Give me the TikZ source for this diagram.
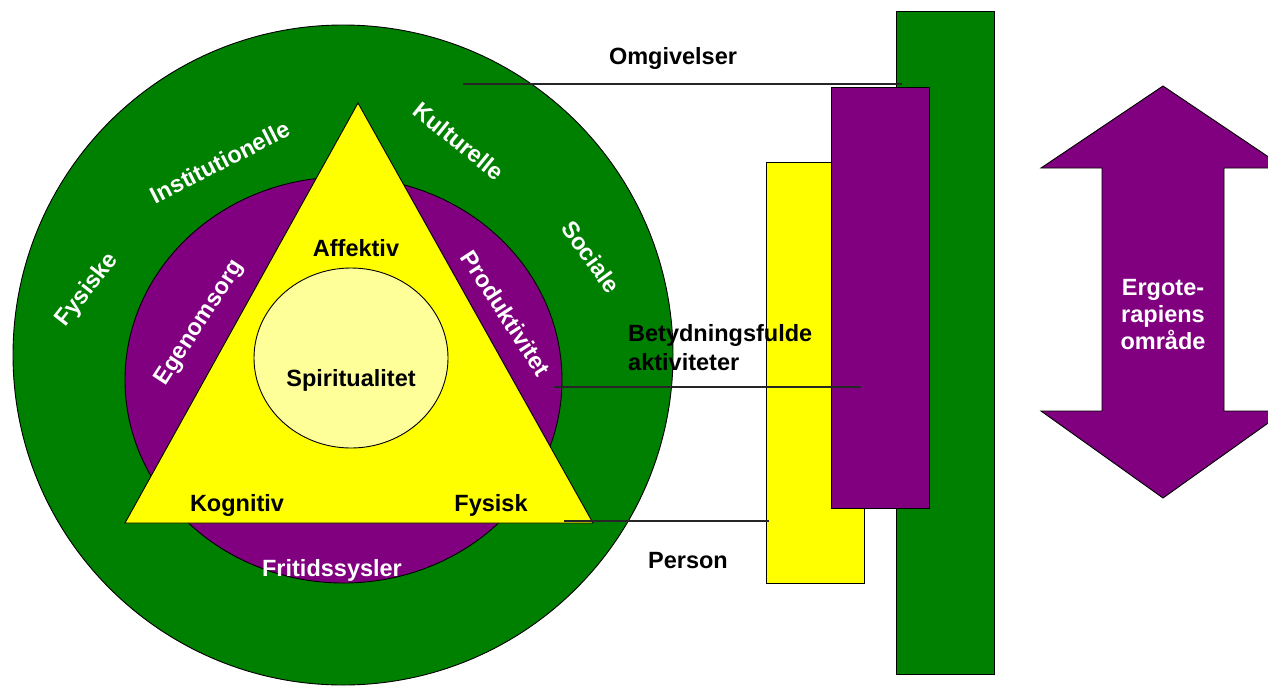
\documentclass[tikz,border=0pt]{standalone}
\usepackage{fontspec}
\setmainfont{Liberation Sans}
\usetikzlibrary{shapes.geometric}
\definecolor{ogreen}{RGB}{0,128,0}
\definecolor{opurple}{RGB}{128,0,128}
\definecolor{oyellow}{RGB}{255,255,0}
\definecolor{olight}{RGB}{255,255,153}
\begin{document}
\begin{tikzpicture}[x=1pt,y=-1pt,
  lbl/.style={font=\fontsize{23.5}{28}\selectfont\bfseries, inner sep=0pt},
  wlbl/.style={lbl, text=white},
  blbl/.style={lbl, text=black},
  shapeline/.style={draw=black, line width=0.9pt},
  conn/.style={draw=black!85, line width=1.1pt},
  barbox/.style={rectangle, shapeline, inner sep=0pt, minimum width=98pt, minimum height=421pt},
]
\useasboundingbox (0,0) rectangle (1268,686);
\clip (0,0) rectangle (1268,686);
\fill[white] (0,0) rectangle (1268,686);

% --- circle model ---
\node[circle, fill=ogreen, shapeline, minimum size=660pt, inner sep=0pt] (env) at (343,355) {};
\node[ellipse, fill=opurple, shapeline, minimum width=437pt, minimum height=406pt, inner sep=0pt] (occ) at (343.5,380) {};
\coordinate (tl) at (125,523);
\coordinate (tt) at (358,103);
\coordinate (tr) at (593,523);
\draw[shapeline, fill=oyellow] (tl) -- (tt) -- (tr) -- cycle;
\node[ellipse, fill=olight, shapeline, minimum width=194pt, minimum height=180pt, inner sep=0pt] (spirit) at (351,358) {};

% labels in the circle model
\node[blbl] (affektiv) at (356,248) {Affektiv};
\node[blbl] (kognitiv) at (237,505) {Kognitiv};
\node[blbl] (fysisk) at (491,505) {Fysisk};
\node[blbl] (spirtxt) at (351,380) {Spiritualitet};
\node[wlbl] (fritid) at (332,570) {Fritidssysler};
\node[wlbl, rotate=57] (egen) at (200,323) {Egenomsorg};
\node[wlbl, rotate=-57] (produk) at (506,313) {Produktivitet};
\node[wlbl, rotate=52] (fysiske) at (87,290) {Fysiske};
\node[wlbl, rotate=27] (instit) at (220,162) {Institutionelle};
\node[wlbl, rotate=-39] (kultur) at (459,141) {Kulturelle};
\node[wlbl, rotate=-54] (social) at (591,257) {Sociale};

% --- bars ---
\node[barbox, fill=ogreen, minimum height=663pt] (envbar) at (945,342.5) {};
\node[barbox, fill=oyellow] (perbar) at (815,372.5) {};
\node[barbox, fill=opurple] (occbar) at (880,297.5) {};

% --- connectors ---
\coordinate (omgA) at (463,84);
\coordinate (omgB) at (902,84);
\coordinate (betA) at (554,387);
\coordinate (betB) at (861,387);
\coordinate (perA) at (564,521);
\coordinate (perB) at (769,521);
\draw[conn] (omgA) -- (omgB);
\draw[conn] (betA) -- (betB);
\draw[conn] (perA) -- (perB);

\node[blbl] (omgtxt) at (673,58) {Omgivelser};
\node[blbl, anchor=west, align=left, font=\fontsize{23.5}{29}\selectfont\bfseries] (bettxt) at (628,347.5) {Betydningsfulde\\aktiviteter};
\node[blbl] (pertxt) at (688,561) {Person};

% --- double arrow ---
\draw[shapeline, fill=opurple] (1163,86) -- (1285,168) -- (1224,168) -- (1224,411) -- (1285,411)
  -- (1163,498) -- (1041,411) -- (1102,411) -- (1102,168) -- (1041,168) -- cycle;
\node[wlbl, align=center, font=\fontsize{23.5}{27}\selectfont\bfseries] (ergo) at (1163,315) {Ergote-\\rapiens\\område};
\end{tikzpicture}
\end{document}
